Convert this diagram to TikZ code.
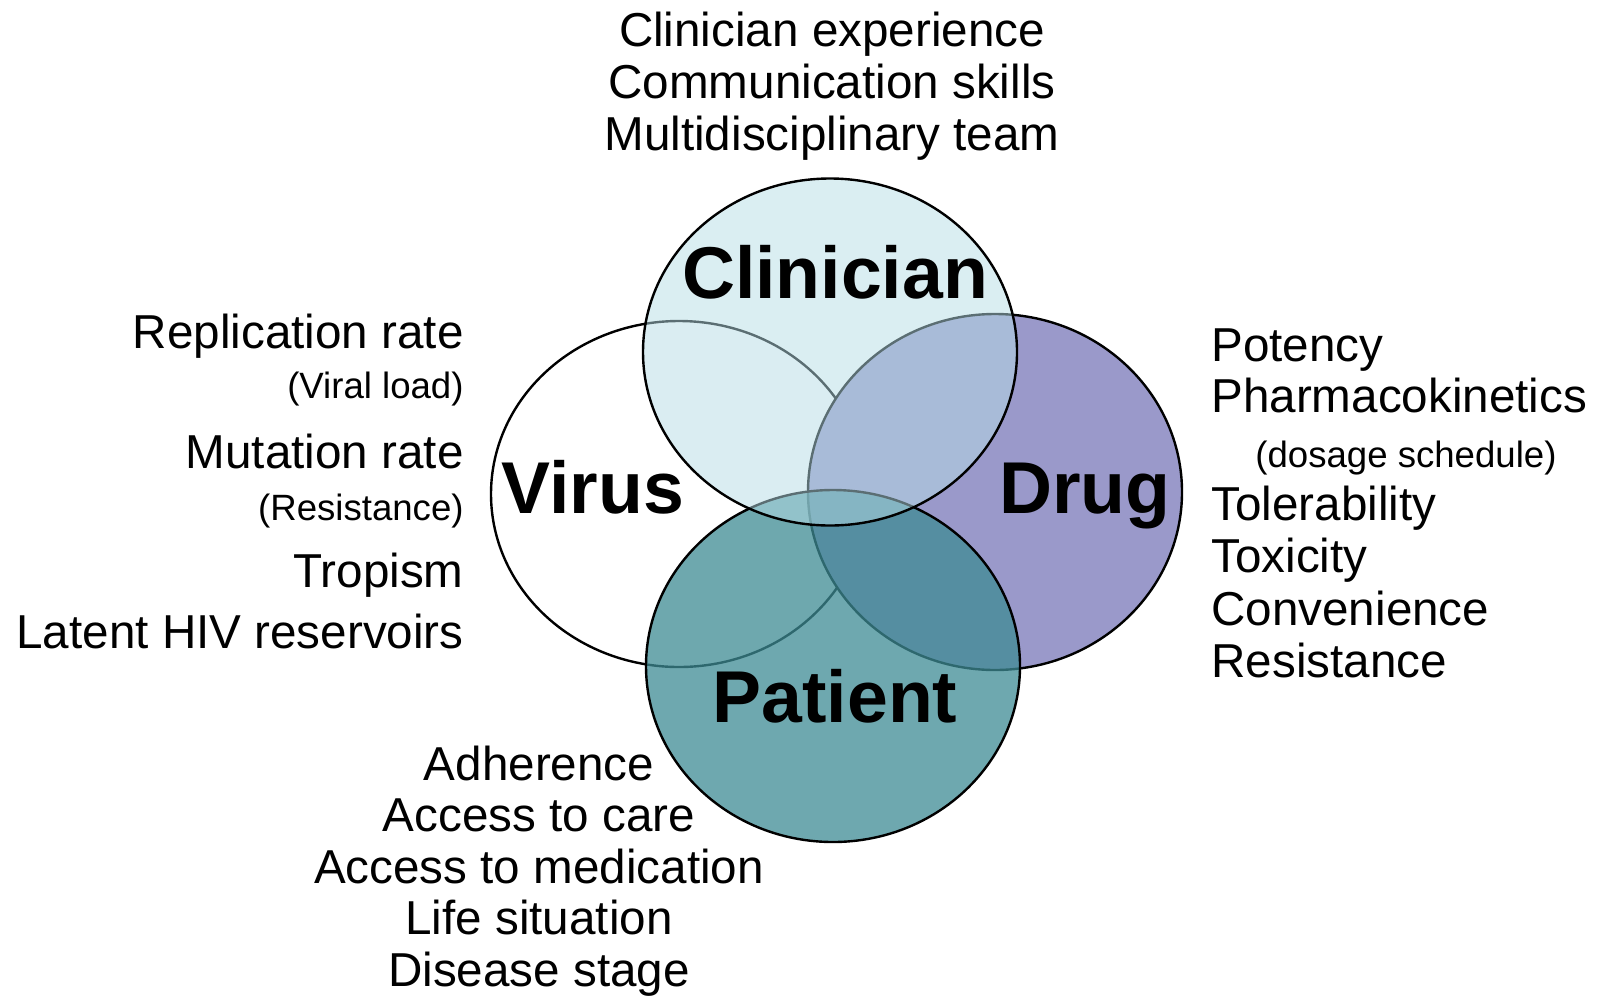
\documentclass[tikz,border=0pt]{standalone}
\usepackage{fontspec}
\setmainfont{Liberation Sans}
\usepackage{tikz}
\usetikzlibrary{shapes.geometric}

\definecolor{clinfill}{RGB}{182,221,230}
\definecolor{drugfill}{RGB}{154,153,202}
\definecolor{patfill}{RGB}{62,139,148}

\tikzset{
  set/.style={ellipse, draw=black, line width=1.2pt, inner sep=0pt, outer sep=0pt},
  item/.style={anchor=base, inner sep=0pt, font=\fontsize{23.8}{25.5}\selectfont},
  note/.style={anchor=base, inner sep=0pt, font=\fontsize{18.3}{20}\selectfont},
  title/.style={anchor=base, inner sep=0pt, font=\fontsize{36.7}{40}\selectfont\bfseries},
}

\begin{document}
\begin{tikzpicture}[x=0.5pt, y=-0.5pt]
  \useasboundingbox (0,0) rectangle (1600,996);
  % the four sets, back to front
  \node[set, fill=white, minimum width=188pt, minimum height=173pt] (virus) at (679,494) {};
  \node[set, fill=drugfill, minimum width=187pt, minimum height=178pt] (drug) at (995,492) {};
  \node[set, fill=patfill, fill opacity=0.75, minimum width=187pt, minimum height=176pt] (patient) at (833,666) {};
  \node[set, fill=clinfill, fill opacity=0.5, minimum width=187pt, minimum height=173.5pt] (clinician) at (830,352) {};
  \node[title] (virus-t) at (593,513) {Virus};
  \node[title] (drug-t) at (1085,513) {Drug};
  \node[title] (clinician-t) at (835,298) {Clinician};
  \node[title] (patient-t) at (835,722) {Patient};
  % clinician factors
  \foreach \txt [count=\i] in {Clinician experience, Communication skills, Multidisciplinary team}
    \node[item] (clin-\i) at (832,{46.5+52*(\i-1)}) {\txt};
  % patient factors
  \foreach \txt [count=\i] in {Adherence, Access to care, Access to medication, Life situation, Disease stage}
    \node[item] (pat-\i) at (539,{780+51.5*(\i-1)}) {\txt};
  % virus factors
  \node[item, anchor=base east] (vir-1) at (464,348) {Replication rate};
  \node[note, anchor=base east] (vir-1n) at (464,398) {(Viral load)};
  \node[item, anchor=base east] (vir-2) at (464,468) {Mutation rate};
  \node[note, anchor=base east] (vir-2n) at (464,520) {(Resistance)};
  \node[item, anchor=base east] (vir-3) at (464,587) {Tropism};
  \node[item, anchor=base east] (vir-4) at (464,648) {Latent HIV reservoirs};
  % drug factors
  \node[item, anchor=base west] (drg-1) at (1211,361) {Potency};
  \node[item, anchor=base west] (drg-2) at (1211,412) {Pharmacokinetics};
  \node[note, anchor=base west] (drg-2n) at (1255,467) {(dosage schedule)};
  \node[item, anchor=base west] (drg-3) at (1211,520) {Tolerability};
  \node[item, anchor=base west] (drg-4) at (1211,572) {Toxicity};
  \node[item, anchor=base west] (drg-5) at (1211,625) {Convenience};
  \node[item, anchor=base west] (drg-6) at (1211,677) {Resistance};
\end{tikzpicture}
\end{document}
